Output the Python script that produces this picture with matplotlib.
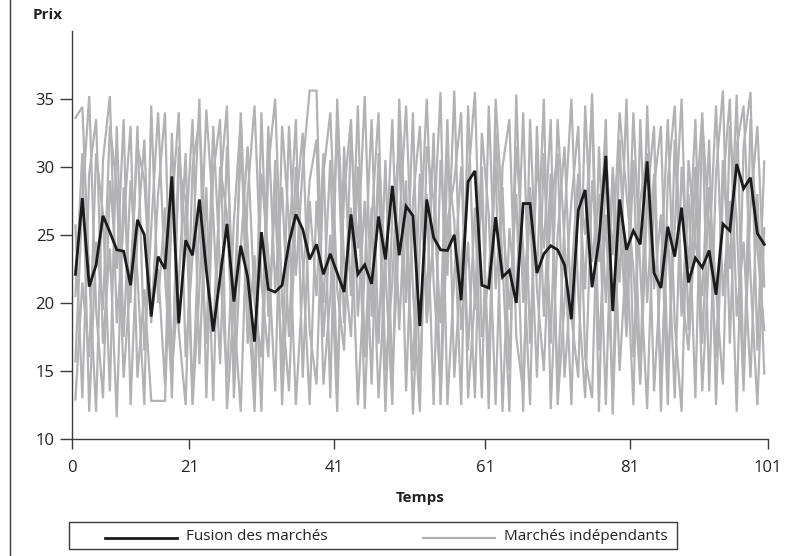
import numpy as np
import matplotlib
matplotlib.use("Agg")
import matplotlib.pyplot as plt
from matplotlib.lines import Line2D
from matplotlib.patches import Rectangle

plt.rcParams['font.family'] = ['Open Sans', 'DejaVu Sans']

# prix du marché fusionné (101 périodes)
fusion = [
    22.1, 27.7, 21.2, 22.8, 26.4, 25.2, 23.9, 23.8, 21.3, 26.1,
    25.0, 19.0, 23.4, 22.5, 29.3, 18.5, 24.6, 23.5, 27.6, 22.4,
    17.9, 21.9, 25.8, 20.1, 24.2, 21.9, 17.15, 25.2, 21.0, 20.8,
    21.3, 24.4, 26.5, 25.4, 23.2, 24.3, 22.1, 23.6, 22.2, 20.8,
    26.5, 22.1, 22.8, 21.4, 26.35, 23.2, 28.6, 23.5, 27.1, 26.4,
    18.3, 27.6, 24.8, 23.9, 23.85, 25.0, 20.2, 28.9, 29.7, 21.3,
    21.1, 26.3, 21.9, 22.4, 20.0, 27.3, 27.3, 22.2, 23.6, 24.2,
    23.9, 22.8, 18.8, 26.8, 28.3, 21.15, 24.6, 30.8, 19.4, 27.6,
    23.9, 25.3, 24.3, 30.4, 22.2, 21.1, 25.6, 23.4, 27.0, 21.5,
    23.3, 22.6, 23.85, 20.6, 25.8, 25.3, 30.2, 28.4, 29.2, 25.1,
    24.3,
]

# prix des marchés indépendants
marche_a = [
    33.6, 34.4, 22.0, 12.0, 30.5, 35.2, 18.5, 26.0, 33.0, 14.5,
    21.0, 12.8, 12.8, 12.8, 27.0, 34.0, 16.0, 23.5, 35.0, 13.0,
    29.5, 33.5, 12.2, 20.0, 31.0, 24.5, 13.5, 34.0, 19.0, 27.5,
    15.0, 33.0, 22.0, 30.0, 35.6, 35.6, 17.5, 25.0, 12.0, 31.5,
    20.5, 34.5, 16.0, 27.0, 13.0, 22.5, 33.5, 18.0, 29.0, 11.8,
    24.0, 35.0, 21.5, 14.0, 30.5, 26.0, 12.5, 34.5, 19.5, 28.0,
    15.5, 32.5, 23.0, 12.0, 35.3, 20.0, 27.0, 14.5, 31.0, 17.0,
    33.5, 24.5, 12.5, 29.5, 21.0, 35.4, 16.5, 26.5, 13.0, 32.0,
    19.5, 34.0, 22.5, 12.2, 28.5, 33.0, 15.0, 25.5, 35.0, 18.0,
    30.0, 13.5, 23.5, 34.5, 20.5, 27.5, 12.0, 31.5, 35.5, 16.5,
    30.4,
]
marche_b = [
    25.7, 13.0, 29.5, 33.5, 17.0, 24.0, 11.6, 28.5, 20.0, 33.0,
    16.5, 25.5, 34.0, 22.0, 14.0, 30.0, 27.5, 12.5, 21.0, 34.2,
    26.5, 15.5, 31.5, 19.5, 12.0, 28.0, 34.5, 21.5, 16.0, 30.5,
    12.5, 24.0, 33.5, 14.5, 27.5, 20.5, 31.0, 13.0, 35.0, 23.0,
    17.5, 30.0, 12.2, 26.0, 34.0, 15.0, 21.5, 32.5, 13.5, 27.5,
    33.0, 18.5, 25.0, 35.5, 12.5, 22.0, 30.0, 16.5, 27.0, 13.0,
    34.5, 21.0, 28.5, 15.0, 31.5, 24.0, 12.5, 33.0, 19.0, 29.5,
    14.0, 26.0, 35.0, 20.5, 13.0, 29.0, 23.0, 33.5, 11.8, 27.0,
    17.5, 30.5, 14.5, 34.5, 21.0, 26.5, 12.5, 32.0, 19.0, 28.0,
    13.0, 33.5, 25.5, 16.0, 30.5, 22.5, 35.3, 14.5, 27.0, 33.0,
    21.2,
]
marche_c = [
    15.7, 27.5, 35.2, 19.5, 13.0, 29.0, 22.5, 33.5, 12.5, 25.0,
    32.0, 18.5, 28.0, 34.0, 15.0, 21.5, 31.0, 12.8, 26.5, 17.0,
    33.0, 22.5, 14.5, 26.0, 33.5, 17.0, 23.5, 12.0, 30.0, 35.0,
    20.0, 13.5, 27.0, 32.5, 18.0, 14.0, 29.5, 34.0, 21.0, 16.5,
    32.5, 24.0, 35.2, 19.0, 29.5, 12.0, 26.5, 31.0, 20.0, 34.0,
    14.0, 28.0, 12.5, 30.5, 22.0, 35.6, 18.0, 24.5, 13.0, 32.5,
    26.5, 12.5, 30.0, 33.5, 17.5, 13.5, 28.5, 22.0, 35.0, 12.2,
    25.0, 31.5, 19.0, 14.5, 34.5, 23.0, 28.0, 12.5, 30.0, 21.5,
    35.0, 16.0, 27.5, 31.0, 13.5, 22.5, 33.5, 18.5, 12.0, 30.5,
    24.5, 20.5, 32.0, 12.5, 28.5, 35.0, 19.0, 24.5, 14.5, 28.0,
    14.8,
]
marche_d = [
    12.9, 21.5, 16.0, 31.0, 26.5, 13.5, 33.0, 17.5, 29.0, 22.0,
    12.5, 34.5, 20.0, 27.0, 13.0, 31.5, 24.5, 33.5, 15.5, 28.5,
    12.8, 30.0, 26.5, 15.0, 34.0, 21.0, 12.0, 29.5, 23.5, 13.5,
    33.0, 26.0, 12.5, 21.5, 29.0, 32.0, 14.0, 20.5, 33.0, 18.5,
    27.0, 12.5, 22.5, 33.5, 17.0, 30.5, 14.5, 25.5, 34.5, 21.0,
    12.0, 31.5, 27.5, 18.5, 33.5, 14.5, 23.0, 29.0, 35.5, 17.5,
    22.0, 30.0, 12.0, 25.5, 20.0, 34.0, 17.0, 30.5, 24.0, 33.5,
    12.5, 20.0, 27.5, 33.0, 16.0, 13.0, 31.5, 20.0, 29.5, 15.0,
    24.0, 12.5, 33.5, 20.0, 29.5, 14.0, 25.5, 13.0, 30.0, 22.5,
    33.5, 17.0, 28.5, 21.0, 14.0, 33.0, 26.0, 13.5, 33.5, 24.0,
    18.0,
]
marche_e = [
    20.5, 31.0, 12.0, 24.5, 19.5, 33.0, 28.5, 14.5, 22.0, 31.5,
    29.0, 19.5, 22.5, 14.0, 32.5, 18.0, 12.5, 30.0, 33.5, 23.5,
    18.0, 28.5, 34.5, 13.0, 24.0, 31.5, 20.0, 16.0, 33.0, 21.0,
    28.5, 17.5, 30.0, 23.0, 12.5, 27.5, 20.0, 30.5, 14.5, 28.0,
    33.5, 19.0, 27.5, 14.0, 31.0, 22.5, 12.5, 35.0, 24.5, 15.0,
    29.5, 20.0, 32.5, 12.5, 26.0, 29.0, 34.0, 13.0, 20.5, 30.0,
    12.2, 35.0, 26.5, 19.5, 28.0, 12.0, 33.5, 21.0, 15.0, 27.0,
    31.0, 14.5, 22.0, 29.5, 25.0, 34.5, 12.0, 31.0, 23.5, 34.0,
    28.0, 22.5, 14.0, 27.5, 33.0, 12.0, 29.0, 34.5, 21.0, 16.5,
    26.0, 34.0, 13.5, 29.5, 35.6, 17.0, 31.5, 34.5, 22.0, 12.5,
    25.5,
]
marches = [marche_a, marche_b, marche_c, marche_d, marche_e]

x_ticks = [0, 17, 38, 60, 81, 101]
x_labels = ['0', '21', '41', '61', '81', '101']
y_ticks = [10, 15, 20, 25, 30, 35]
noms = ['Fusion des marchés', 'Marchés indépendants']

gris = '#b2b2b4'
noir = '#1c1a1a'
axe = '#3a3a3a'
texte = '#222222'

W, H = 795, 556
fig = plt.figure(figsize=(W / 100, H / 100), dpi=100)
ax = fig.add_axes([72 / W, 117 / H, 695.7 / W, 408.3 / H])

t = np.arange(len(fusion)) + 0.5
for m in marches:
    ax.plot(t, m, color=gris, lw=1.6, solid_joinstyle='miter')
ax.plot(t, fusion, color=noir, lw=2.0, solid_joinstyle='miter', zorder=5)

ax.set_xlim(0, 101)
ax.set_ylim(10, 40)
ax.set_xticks(x_ticks)
ax.set_xticklabels(x_labels)
ax.set_yticks(y_ticks)

for s in ['top', 'right']:
    ax.spines[s].set_visible(False)
for s in ['left', 'bottom']:
    ax.spines[s].set_color(axe)
    ax.spines[s].set_linewidth(1.0)
ax.tick_params(axis='y', length=8.5, width=1.0, color=axe, labelsize=12,
               pad=4, labelcolor=texte)
ax.tick_params(axis='x', length=7, width=1.0, color=axe, labelsize=12,
               pad=8, labelcolor=texte)

ax.set_xlabel('Temps', fontsize=11, fontweight='bold', labelpad=11,
              color=texte)
fig.text(33 / W, 1 - 15 / H, 'Prix', fontsize=11, fontweight='bold',
         ha='left', va='center', color=texte)

# filet vertical à gauche
fig.add_artist(Line2D([10 / W, 10 / W], [0, 1], color=axe, lw=1.0))


# légende dessinée en pixels (origine en haut à gauche)
def px(x, y):
    return x / W, 1 - y / H


x0, y0 = px(69, 549)
x1, y1 = px(677, 521.5)
fig.add_artist(Rectangle((x0, y0), x1 - x0, y1 - y0, transform=fig.transFigure,
                         fill=False, edgecolor=axe, lw=1.0))
for (a, b), c, w, nom in [((105, 177), noir, 2.0, noms[0]),
                          ((423, 495), gris, 1.6, noms[1])]:
    xa, ya = px(a, 538)
    xb, _ = px(b, 538)
    fig.add_artist(Line2D([xa, xb], [ya, ya], color=c, lw=w))
    xt, yt = px(b + 9, 537)
    fig.text(xt, yt, nom, fontsize=11, ha='left', va='center', color=texte)

fig.savefig('out.png', dpi=100)
